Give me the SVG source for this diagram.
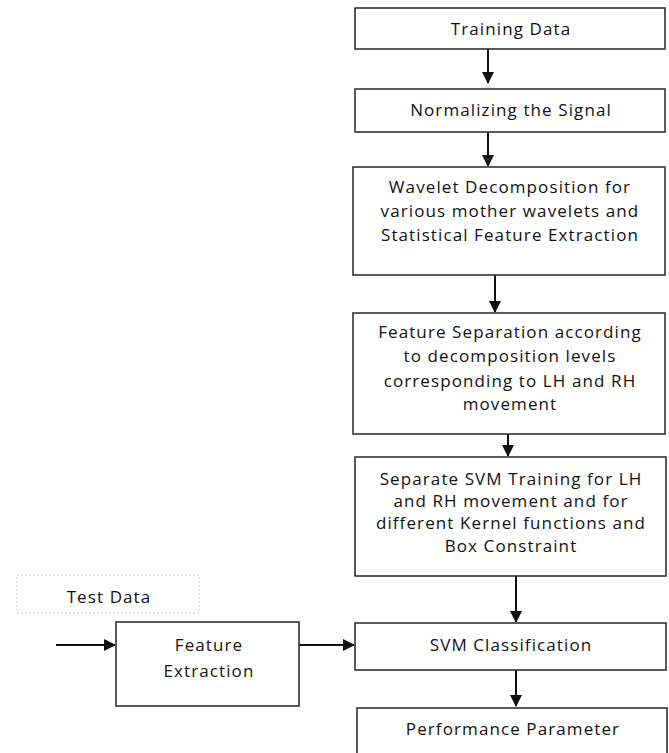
<svg xmlns="http://www.w3.org/2000/svg" width="669" height="753" viewBox="0 0 669 753">
<defs>
<marker id="ah" markerWidth="12" markerHeight="12" refX="11" refY="6" orient="auto" markerUnits="userSpaceOnUse">
<path d="M0,0 L12,6 L0,12 Z" fill="#111"/>
</marker>
<style>
.box{fill:#fff;stroke:#333;stroke-width:1.6}
.dot{fill:#fff;stroke:#ccc;stroke-width:1;stroke-dasharray:2 2}
.t{font-family:"Open Sans","DejaVu Sans",sans-serif;font-size:17px;letter-spacing:1.1px;fill:#111;text-anchor:middle}
.c{stroke:#111;stroke-width:2;fill:none;marker-end:url(#ah)}
</style>
</defs>
<rect width="669" height="753" fill="#fff"/>
<g id="connectors">
<line class="c" x1="488" y1="49" x2="488" y2="83"/>
<line class="c" x1="488" y1="132" x2="488" y2="166"/>
<line class="c" x1="495" y1="275" x2="495" y2="312"/>
<line class="c" x1="508" y1="418" x2="508" y2="456"/>
<line class="c" x1="516" y1="573" x2="516" y2="622"/>
<line class="c" x1="516" y1="670" x2="516" y2="706"/>
<line class="c" x1="56" y1="645" x2="115" y2="645"/>
<line class="c" x1="299" y1="645" x2="354" y2="645"/>
</g>
<g id="training-data">
<rect class="box" x="355" y="8" width="310" height="41"/>
<text class="t" x="511" y="35">Training Data</text>
</g>
<g id="normalizing">
<rect class="box" x="355" y="89" width="310" height="43"/>
<text class="t" x="511" y="116">Normalizing the Signal</text>
</g>
<g id="wavelet">
<rect class="box" x="353" y="167" width="312" height="108"/>
<text class="t" x="510" y="193">Wavelet Decomposition for</text>
<text class="t" x="510" y="217">various mother wavelets and</text>
<text class="t" x="510" y="241">Statistical Feature Extraction</text>
</g>
<g id="feature-separation">
<rect class="box" x="353" y="313" width="312" height="121"/>
<text class="t" x="510" y="338">Feature Separation according</text>
<text class="t" x="510" y="362">to decomposition levels</text>
<text class="t" x="510" y="387">corresponding to LH and RH</text>
<text class="t" x="510" y="410">movement</text>
</g>
<g id="svm-training">
<rect class="box" x="355" y="457" width="311" height="119"/>
<text class="t" x="511" y="485">Separate SVM Training for LH</text>
<text class="t" x="511" y="507">and RH movement and for</text>
<text class="t" x="511" y="529">different Kernel functions and</text>
<text class="t" x="511" y="552">Box Constraint</text>
</g>
<g id="test-data">
<rect class="dot" x="17" y="575" width="182" height="38"/>
<text class="t" x="109" y="603">Test Data</text>
</g>
<g id="feature-extraction">
<rect class="box" x="116" y="622" width="183" height="84"/>
<text class="t" x="209" y="651">Feature</text>
<text class="t" x="209" y="677">Extraction</text>
</g>
<g id="svm-classification">
<rect class="box" x="355" y="623" width="311" height="47"/>
<text class="t" x="511" y="651">SVM Classification</text>
</g>
<g id="performance">
<rect class="box" x="357" y="708" width="310" height="60"/>
<text class="t" x="513" y="735">Performance Parameter</text>
</g>
</svg>
